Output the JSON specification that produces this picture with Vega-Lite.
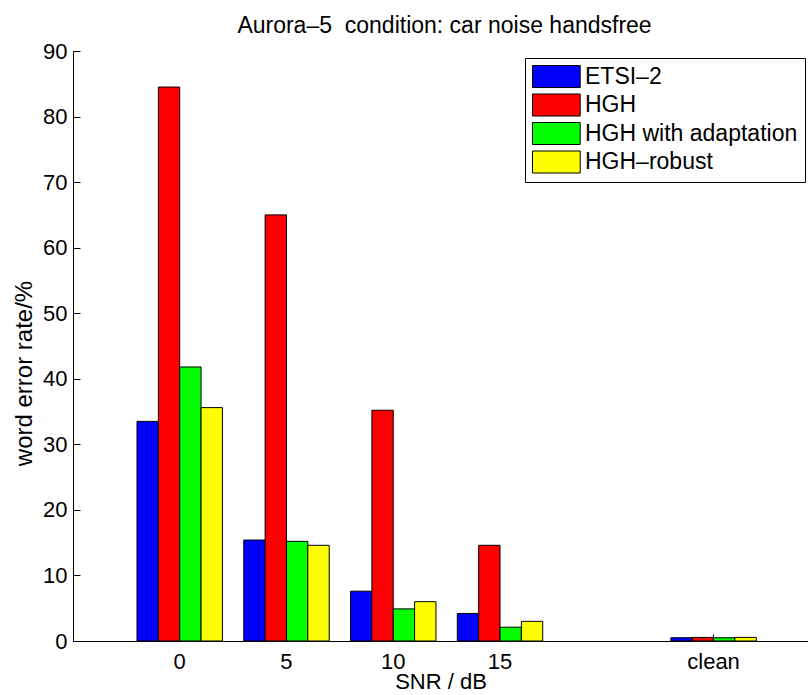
{
  "$schema": "https://vega.github.io/schema/vega-lite/v6.json",
  "autosize": {"type": "none"},
  "padding": {"left": 73, "top": 51, "right": 0, "bottom": 54},
  "width": 735,
  "height": 590,
  "background": "white",
  "title": {
    "text": "Aurora–5\u00a0 condition: car noise handsfree",
    "font": "Liberation Sans",
    "fontSize": 23,
    "fontWeight": "normal",
    "color": "black",
    "offset": 2,
    "dx": 4
  },
  "data": {
    "values": [
      {"snr": "0", "method": "ETSI–2", "wer": 33.5},
      {"snr": "0", "method": "HGH", "wer": 84.5},
      {"snr": "0", "method": "HGH with adaptation", "wer": 41.8},
      {"snr": "0", "method": "HGH–robust", "wer": 35.6},
      {"snr": "5", "method": "ETSI–2", "wer": 15.4},
      {"snr": "5", "method": "HGH", "wer": 65.0},
      {"snr": "5", "method": "HGH with adaptation", "wer": 15.2},
      {"snr": "5", "method": "HGH–robust", "wer": 14.6},
      {"snr": "10", "method": "ETSI–2", "wer": 7.6},
      {"snr": "10", "method": "HGH", "wer": 35.2},
      {"snr": "10", "method": "HGH with adaptation", "wer": 4.9},
      {"snr": "10", "method": "HGH–robust", "wer": 6.0},
      {"snr": "15", "method": "ETSI–2", "wer": 4.2},
      {"snr": "15", "method": "HGH", "wer": 14.6},
      {"snr": "15", "method": "HGH with adaptation", "wer": 2.1},
      {"snr": "15", "method": "HGH–robust", "wer": 3.0},
      {"snr": "clean", "method": "ETSI–2", "wer": 0.5},
      {"snr": "clean", "method": "HGH", "wer": 0.55},
      {"snr": "clean", "method": "HGH with adaptation", "wer": 0.5},
      {"snr": "clean", "method": "HGH–robust", "wer": 0.55}
    ]
  },
  "mark": {"type": "bar", "stroke": "black", "strokeWidth": 1},
  "encoding": {
    "x": {
      "field": "snr",
      "type": "nominal",
      "scale": {
        "type": "band",
        "domain": ["0", "5", "10", "15", "20", "clean"],
        "paddingInner": 0.2,
        "paddingOuter": 0.542,
        "align": 0.553
      },
      "axis": {
        "title": "SNR / dB",
        "values": ["0", "5", "10", "15", "clean"],
        "labelAngle": 0,
        "labelFont": "Liberation Sans",
        "labelFontSize": 22,
        "labelColor": "black",
        "labelPadding": 17,
        "tickSize": -7,
        "tickColor": "black",
        "domainColor": "black",
        "titleFont": "Liberation Sans",
        "titleFontSize": 22,
        "titleFontWeight": "normal",
        "titleColor": "black",
        "titlePadding": -1
      }
    },
    "xOffset": {
      "field": "method",
      "type": "nominal",
      "scale": {"domain": ["ETSI–2", "HGH", "HGH with adaptation", "HGH–robust"]}
    },
    "y": {
      "field": "wer",
      "type": "quantitative",
      "scale": {"domain": [0, 90], "nice": false},
      "axis": {
        "title": "word error rate/%",
        "values": [0, 10, 20, 30, 40, 50, 60, 70, 80, 90],
        "grid": false,
        "labelFont": "Liberation Sans",
        "labelFontSize": 22,
        "labelColor": "black",
        "labelPadding": 13,
        "tickSize": -7,
        "tickColor": "black",
        "domainColor": "black",
        "titleFont": "Liberation Sans",
        "titleFontSize": 24,
        "titleFontWeight": "normal",
        "titleColor": "black",
        "titlePadding": 6,
        "titleY": 322
      }
    },
    "color": {
      "field": "method",
      "type": "nominal",
      "scale": {
        "domain": ["ETSI–2", "HGH", "HGH with adaptation", "HGH–robust"],
        "range": ["#0000ff", "#ff0000", "#00ff00", "#ffff00"]
      },
      "legend": {
        "title": null,
        "orient": "none",
        "legendX": 452,
        "legendY": 7,
        "symbolType": "M-1,-1H3.336V1H-1Z",
        "symbolSize": 484,
        "symbolStrokeColor": "black",
        "symbolStrokeWidth": 1,
        "labelFont": "Liberation Sans",
        "labelFontSize": 23,
        "labelColor": "black",
        "labelOffset": 30,
        "labelLimit": 400,
        "rowPadding": 1.5,
        "padding": 7,
        "strokeColor": "black",
        "fillColor": "white"
      }
    }
  },
  "config": {"view": {"stroke": null}}
}
